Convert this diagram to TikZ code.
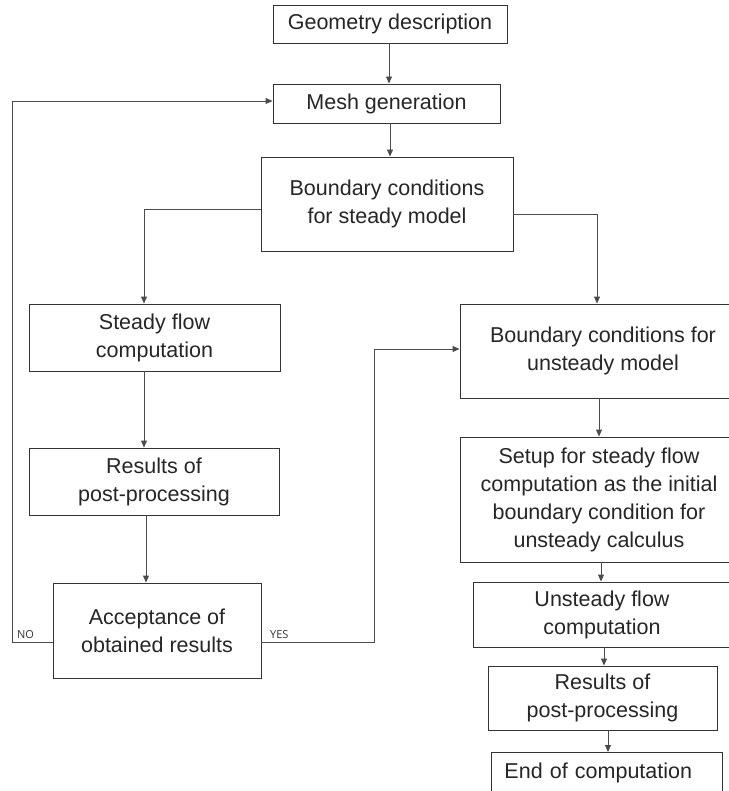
\documentclass[tikz,border=0pt]{standalone}
\usepackage{fontspec}
\setmainfont{Liberation Sans}
\newfontfamily\labfont{Open Sans}
\usetikzlibrary{arrows.meta}
\begin{document}
\begin{tikzpicture}[x=1pt,y=-1pt,
  box/.style={draw=black!80, line width=0.9pt, inner sep=0pt, align=center,
    text=black!85, font=\fontsize{21.5}{28}\selectfont},
  arr/.style={draw=black!70, line width=0.9pt, -{Triangle[length=7pt,width=6pt]}},
  lab/.style={font=\labfont\fontsize{11}{13}\selectfont, text=black!80, inner sep=0pt}]
\useasboundingbox (0,0) rectangle (728,791);
\fill[white] (0,0) rectangle (728,791);

\node[box, minimum width=234, minimum height=38] (geo) at (390,24) {Geometry description};
\node[box, minimum width=227, minimum height=39] (mesh) at (386.5,103.5) {Mesh generation};
\node[box, minimum width=252, minimum height=94] (bcs) at (387,204) {Boundary conditions\\for steady model};
\node[box, minimum width=251, minimum height=67] (steady) at (154.5,337.5) {Steady flow\\computation};
\node[box, minimum width=250, minimum height=67] (res1) at (154,481.5) {Results of\\post-processing};
\node[box, minimum width=208, minimum height=95] (acc) at (157,630.5) {Acceptance of\\obtained results};
\node[box, minimum width=286, minimum height=94] (bcu) at (603,351) {Boundary conditions for\\unsteady model};
\node[box, minimum width=278, minimum height=125] (setup) at (599,499.5) {Setup for steady flow\\computation as the initial\\boundary condition for\\unsteady calculus};
\node[box, minimum width=258, minimum height=65] (unst) at (602,614.5) {Unsteady flow\\computation};
\node[box, minimum width=229, minimum height=64] (res2) at (602.5,698) {Results of\\post-processing};
\node[box, anchor=north west, minimum height=40, text width=205, inner xsep=13pt, align=left] (endc) at (491,752) {End of computation};
\fill[white] (480,792) rectangle (728,800);

\draw[arr] (389,0 |- geo.south) -- (389,0 |- mesh.north);
\draw[arr] (390,0 |- mesh.south) -- (390,0 |- bcs.north);
\draw[arr] (bcs.west |- 0,209) -| (144,0 |- steady.north);
\draw[arr] (bcs.east |- 0,214) -| (597,0 |- bcu.north);
\draw[arr] (144,0 |- steady.south) -- (144,0 |- res1.north);
\draw[arr] (146,0 |- res1.south) -- (146,0 |- acc.north);
\draw[arr] (acc.west |- 0,642) -| (12.5,101) -- (mesh.west |- 0,101);
\draw[arr] (acc.east |- 0,642) -| (374,349) -- (bcu.west |- 0,349);
\draw[arr] (599,0 |- bcu.south) -- (599,0 |- setup.north);
\draw[arr] (601,0 |- setup.south) -- (601,0 |- unst.north);
\draw[arr] (604,0 |- unst.south) -- (604,0 |- res2.north);
\draw[arr] (608,0 |- res2.south) -- (608,0 |- endc.north);

\node[lab, anchor=base west] (no) at (17,638) {NO};
\node[lab, anchor=base west] (yes) at (270,638) {YES};
\end{tikzpicture}
\end{document}
